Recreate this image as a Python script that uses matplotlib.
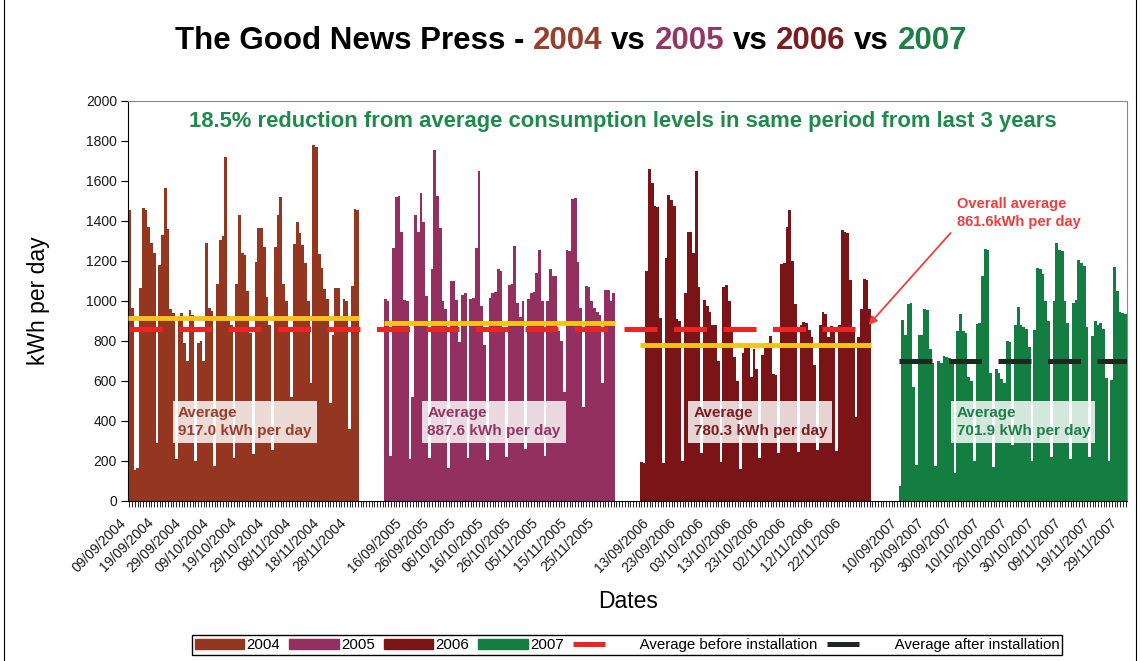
import matplotlib
matplotlib.use('Agg')
import matplotlib.pyplot as plt
from matplotlib.patches import Patch
from matplotlib.lines import Line2D
from matplotlib.offsetbox import TextArea, HPacker, AnchoredOffsetbox
from matplotlib.transforms import ScaledTranslation
import pandas as pd

plt.rcParams['font.family'] = ['Liberation Sans', 'DejaVu Sans']

# daily kWh readings, 09/09 to 01/12 of each year
years = ['2004', '2005', '2006', '2007']
start_dates = ['2004-09-09', '2005-09-09', '2006-09-09', '2007-09-09']

kwh_2004 = [1455, 965, 155, 165,
            1065, 1465, 1455, 1370, 1290, 1240, 290,
            1180, 1330, 1565, 1360, 960, 940, 210,
            925, 940, 790, 700, 955, 930, 200,
            790, 800, 700, 1290, 965, 950, 175,
            1085, 1305, 1325, 1720, 925, 880, 215,
            1085, 1430, 1240, 1230, 1050, 840, 235,
            1195, 1365, 1365, 1270, 1020, 880, 255,
            1270, 1430, 1520, 1085, 1000, 870, 520,
            1285, 1395, 1340, 1280, 1190, 1000, 590,
            1780, 1770, 1235, 1165, 1060, 1010, 490,
            830, 1065, 1065, 905, 1010, 1000, 360,
            1075, 1460, 1455]

kwh_2005 = [1010, 1000, 225,
            1265, 1520, 1525, 1345, 1005, 1000, 210,
            520, 1430, 1345, 1540, 1395, 1025, 215,
            1160, 1755, 1525, 1365, 1000, 960, 165,
            1100, 1100, 1005, 795, 1030, 1040, 215,
            1010, 1015, 1265, 1650, 975, 780, 205,
            1015, 1040, 1045, 1160, 1150, 870, 220,
            1080, 1085, 1275, 990, 920, 1000, 260,
            1010, 1040, 1045, 1140, 1255, 1000, 225,
            1000, 1160, 1125, 1125, 850, 800, 545,
            1255, 1250, 1510, 1515, 1195, 965, 470,
            1075, 1070, 1000, 965, 945, 930, 590,
            1055, 1055, 1000, 1040]

kwh_2006 = [195, 190,
            1150, 1660, 1590, 1475, 1470, 915, 190,
            1215, 1530, 1505, 1475, 910, 900, 200,
            1040, 1345, 1345, 1240, 1650, 1070, 240,
            1005, 975, 945, 880, 880, 700, 195,
            1070, 1080, 1000, 850, 720, 600, 160,
            740, 765, 770, 620, 760, 660, 215,
            730, 765, 790, 825, 635, 630, 240,
            1185, 1190, 1370, 1455, 1200, 985, 245,
            880, 895, 890, 855, 820, 680, 255,
            880, 945, 935, 820, 875, 870, 250,
            880, 1355, 1345, 1340, 1105, 870, 420,
            820, 960, 1110, 1105, 960]

kwh_2007 = [0, 75,
            905, 830, 985, 990, 570, 180,
            830, 830, 960, 955, 760, 690, 175,
            700, 690, 725, 720, 715, 705, 140,
            850, 935, 850, 840, 620, 600, 200,
            885, 890, 1125, 1260, 1255, 640, 170,
            660, 640, 610, 590, 800, 795, 280,
            880, 970, 880, 870, 860, 770, 200,
            855, 1165, 1160, 1135, 1000, 900, 220,
            1000, 1290, 1255, 1250, 1000, 890, 210,
            990, 1005, 1205, 1190, 1175, 870, 220,
            825, 900, 880, 890, 860, 615, 200,
            605, 1170, 1050, 945, 940, 935]

year_avgs = [917.0, 887.6, 780.3, 701.9]
avg_before = 861.6
avg_after = 701.9

bar_colours = ['#943620', '#943060', '#7a1416', '#147d41']
text_colours = ['#9a3e2c', '#933565', '#7c1c1e', '#1c8048']
yellow = '#f6c419'
red = '#ee2424'
dark = '#1c2a1e'
gap_days = 9

series = [kwh_2004, kwh_2005, kwh_2006, kwh_2007]

fig = plt.figure(figsize=(11.41, 6.61), dpi=100)
ax = fig.add_axes([128 / 1141, 160 / 661, 999 / 1141, 400 / 661])

# category labels: one per day, blank categories between years
labels = []
offsets = []
pos = 0
for i, (start, vals) in enumerate(zip(start_dates, series)):
    offsets.append(pos)
    labels += pd.date_range(start, periods=len(vals)).strftime('%d/%m/%Y').tolist()
    pos += len(vals)
    if i < len(series) - 1:
        labels += [''] * gap_days
        pos += gap_days
n_cat = len(labels)

for i, vals in enumerate(series):
    xs = [offsets[i] + k for k in range(len(vals))]
    ax.bar(xs, vals, width=1.0, color=bar_colours[i], linewidth=0, zorder=2)

# yearly average (yellow) for the years before installation
for i in range(3):
    x0 = offsets[i] - 0.5
    x1 = offsets[i] + len(series[i]) - 0.5
    ax.plot([x0, x1], [year_avgs[i]] * 2, color=yellow, lw=3.5,
            solid_capstyle='butt', zorder=3)

end_2006 = offsets[2] + len(kwh_2006) - 0.5
ax.plot([-0.3, end_2006], [avg_before] * 2, color=red, lw=3.6,
        dashes=(6.6, 3.3), zorder=4)
ax.plot([offsets[3] + 0.7, n_cat - 0.5], [avg_after] * 2, color=dark, lw=3.6,
        dashes=(6.6, 3.3), zorder=4)

# "Average ..." boxes
box_x = [17.7, 108.2, 205.0, 300.6]
for i in range(4):
    ax.text(box_x[i], 395, 'Average\n%.1f kWh per day' % year_avgs[i],
            fontsize=11, fontweight='bold', color=text_colours[i],
            ha='left', va='center', linespacing=1.3, zorder=6,
            bbox=dict(boxstyle='square,pad=0.35', facecolor=(1, 1, 1, 0.82),
                      edgecolor='none'))

ax.text(300.9, 1440, 'Overall average\n%.1fkWh per day' % avg_before,
        fontsize=10.5, fontweight='bold', color='#f03c3c', ha='left',
        va='center', linespacing=1.3, zorder=6)
ax.annotate('', xy=(268.6, 880), xytext=(298.4, 1340),
            arrowprops=dict(arrowstyle='-|>', color='#f03c3c', lw=1.3,
                            mutation_scale=12, shrinkA=0, shrinkB=0), zorder=6)

ax.text(0.4955, 0.95,
        '18.5% reduction from average consumption levels in same period from last 3 years',
        transform=ax.transAxes, fontsize=15.8, fontweight='bold',
        color='#1e8a4c', ha='center', va='center')

ax.set_xlim(-0.5, n_cat - 0.5)
ax.set_ylim(0, 2000)
ax.set_yticks(range(0, 2001, 200))
ax.tick_params(axis='y', labelsize=10, length=5, width=0.8, pad=3,
               labelcolor='#1a1a1a')

tick_pos = list(range(0, n_cat, 10))
ax.set_xticks(tick_pos)
ax.set_xticklabels([labels[i] for i in tick_pos], rotation=45, ha='right',
                   va='center', rotation_mode='anchor', fontsize=10,
                   color='#1a1a1a')
ax.set_xticks(range(n_cat), minor=True)
ax.tick_params(axis='x', which='both', length=4, width=0.6, pad=10)
shift = ScaledTranslation(-0.055, 0, fig.dpi_scale_trans)
for lbl in ax.get_xticklabels():
    lbl.set_transform(lbl.get_transform() + shift)

for side in ['top', 'right']:
    ax.spines[side].set_color('#8a8a8a')
for side in ['left', 'bottom']:
    ax.spines[side].set_color('black')

ax.set_ylabel('kWh per day', fontsize=16.5)
ax.yaxis.set_label_coords(-0.078, 0.5)
ax.set_xlabel('Dates', fontsize=16.5)
ax.xaxis.set_label_coords(0.5005, -0.2225)

# title with coloured years
pieces = [('The Good News Press -', 'black'), ('2004', text_colours[0]),
          ('vs', 'black'), ('2005', text_colours[1]), ('vs', 'black'),
          ('2006', text_colours[2]), ('vs', 'black'), ('2007', text_colours[3])]
areas = [TextArea(s, textprops=dict(color=c, fontsize=22.5, fontweight='bold'))
         for s, c in pieces]
title = AnchoredOffsetbox(loc='center', child=HPacker(children=areas, sep=6.2, pad=0),
                          bbox_to_anchor=(571 / 1141, 1 - 41 / 661),
                          bbox_transform=fig.transFigure, frameon=False,
                          pad=0, borderpad=0)
fig.add_artist(title)

handles = [Patch(facecolor=c, edgecolor=c) for c in bar_colours]
handles.append(Line2D([], [], color=red, lw=3.6, dashes=(6.4, 30)))
handles.append(Line2D([], [], color=dark, lw=3.6, dashes=(6.4, 30)))
leg_labels = years + ['    Average before installation', '    Average after installation']
leg = fig.legend(handles, leg_labels, loc='center', ncol=6,
                 bbox_to_anchor=(627 / 1141, 1 - 645 / 661), fontsize=10.8,
                 frameon=True, fancybox=False, edgecolor='black',
                 handlelength=3.3, handletextpad=0.15, columnspacing=0.6,
                 borderpad=0.2, framealpha=1)
leg.get_frame().set_linewidth(1.0)

# chart area border
fig.add_artist(Line2D([4 / 1141, 4 / 1141], [0, 1], color='black', lw=0.8))
fig.add_artist(Line2D([1136 / 1141, 1136 / 1141], [0, 1], color='black', lw=0.8))

plt.savefig('out.png', dpi=100)
